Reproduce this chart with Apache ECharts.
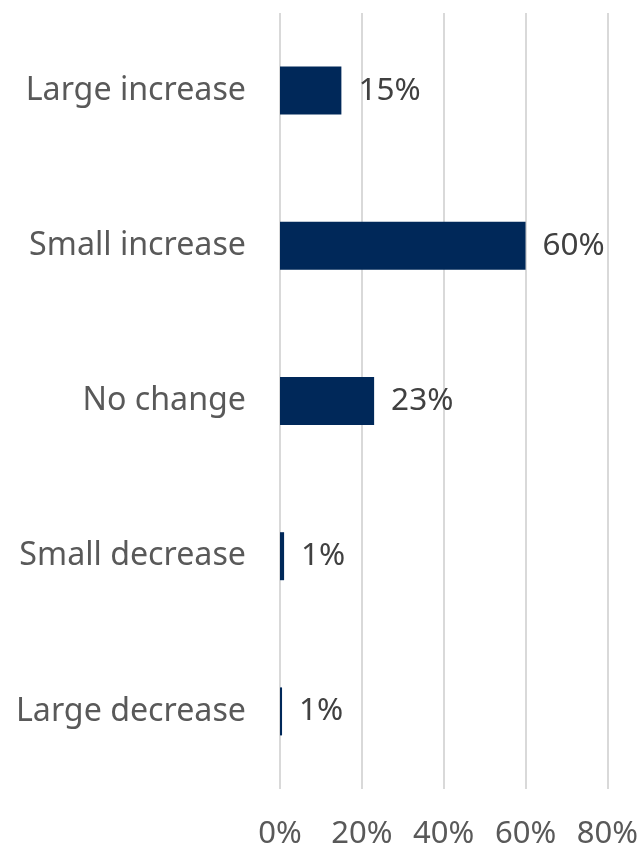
<!DOCTYPE html>
<html>
<head>
<meta charset="utf-8">
<script src="https://cdn.jsdelivr.net/npm/echarts@6/dist/echarts.min.js"></script>
<style>
  html, body { margin: 0; padding: 0; background: #ffffff; }
  #chart { width: 641px; height: 850px; }
</style>
</head>
<body>
<div id="chart"></div>
<script>
// Expected change, share of respondents (top to bottom)
const categories = ['Large increase', 'Small increase', 'No change', 'Small decrease', 'Large decrease'];
const shares = [15, 60, 23, 1, 0.5];
const xTicks = [0, 20, 40, 60, 80];

const chart = echarts.init(document.getElementById('chart'), null, { renderer: 'canvas' });
const fontFamily = '"Noto Sans", "Open Sans", sans-serif';

chart.setOption({
  animation: false,
  grid: { left: 280, right: 32, top: 13, bottom: 59, containLabel: false },
  xAxis: {
    type: 'value',
    min: xTicks[0],
    max: xTicks[xTicks.length - 1],
    interval: xTicks[1] - xTicks[0],
    axisLine: { show: false },
    axisTick: { show: false },
    splitLine: { show: true, lineStyle: { color: '#d9d9d9', width: 2 } },
    axisLabel: {
      color: '#595959',
      fontFamily: fontFamily,
      fontSize: 31,
      margin: 30,
      formatter: v => v + '%'
    }
  },
  yAxis: {
    type: 'category',
    data: categories,
    inverse: true,
    axisLine: { show: false },
    axisTick: { show: false },
    splitLine: { show: false },
    axisLabel: {
      color: '#595959',
      fontFamily: fontFamily,
      fontSize: 32.2,
      margin: 34,
      padding: [3, 0, 0, 0]
    }
  },
  series: [{
    type: 'bar',
    data: shares,
    barWidth: 48,
    itemStyle: { color: '#002859' },
    label: {
      show: true,
      position: 'right',
      distance: 17,
      color: '#404040',
      fontFamily: fontFamily,
      fontSize: 31.5,
      padding: [3, 0, 0, 0],
      formatter: p => Math.round(p.value) + '%'
    }
  }]
});
</script>
</body>
</html>
